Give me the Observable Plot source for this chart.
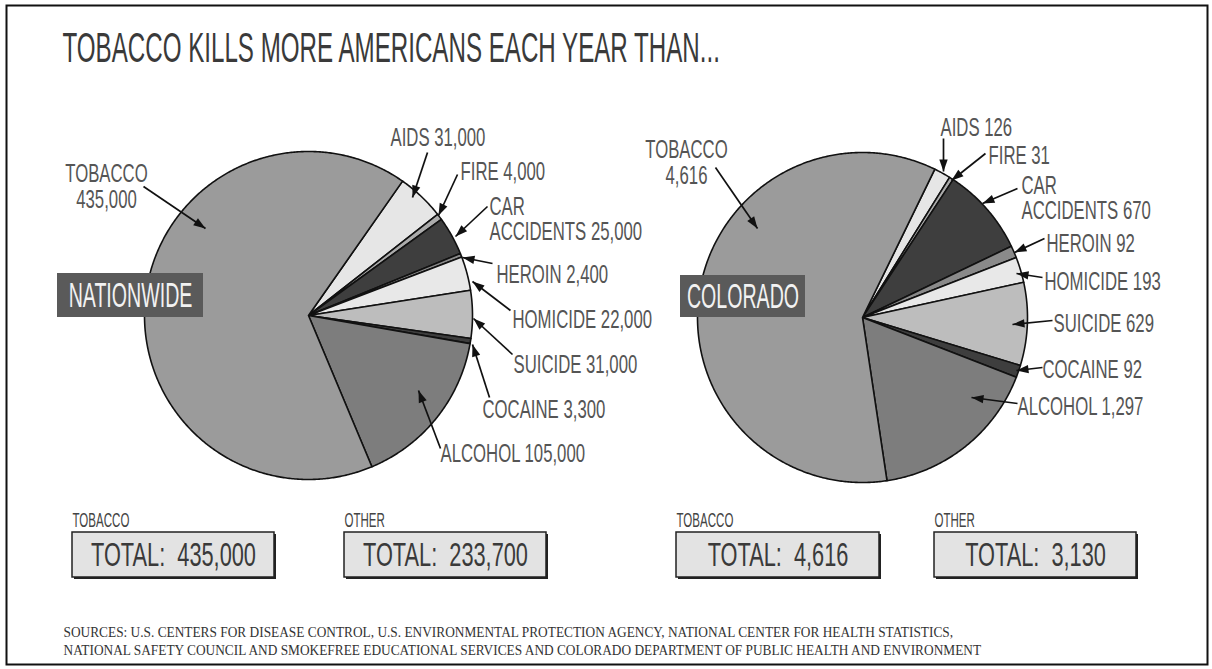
<!DOCTYPE html>
<html><head><meta charset="utf-8">
<script src="https://cdn.jsdelivr.net/npm/d3@7"></script>
<script src="https://cdn.jsdelivr.net/npm/@observablehq/plot@0.6"></script>
<style>html,body{margin:0;padding:0;background:#fff} svg{display:block}</style>
</head><body><div id="chart"></div>
<script>
// ---------- data ----------
const causes = ["AIDS","FIRE","CAR ACCIDENTS","HEROIN","HOMICIDE","SUICIDE","COCAINE","ALCOHOL","TOBACCO"];
const nationwideDeaths = [31000, 4000, 25000, 2400, 22000, 31000, 3300, 105000, 435000];
const coloradoDeaths   = [126, 31, 670, 92, 193, 629, 92, 1297, 4616];
const regionNames = ["NATIONWIDE", "COLORADO"];
const totalLabels = ["TOBACCO", "OTHER"];
// totals as printed on the chart (nationwide "other" printed as 233,700)
const printedTobaccoTotals = [435000, 4616];
const printedOtherTotals = [233700, 3130];
const titleText = "TOBACCO KILLS MORE AMERICANS EACH YEAR THAN...";
const sourceLines = [
  "SOURCES: U.S. CENTERS FOR DISEASE CONTROL, U.S. ENVIRONMENTAL PROTECTION AGENCY, NATIONAL CENTER FOR HEALTH STATISTICS,",
  "NATIONAL SAFETY COUNCIL AND SMOKEFREE EDUCATIONAL SERVICES AND COLORADO DEPARTMENT OF PUBLIC HEALTH AND ENVIRONMENT"
];

// ---------- styles ----------
const sliceFills = ["#e6e6e6","#ababab","#3e3e3e","#8a8a8a","#e8e8e8","#bdbdbd","#3e3e3e","#7d7d7d","#9b9b9b"];
const SANS = "'Liberation Sans', Arial, sans-serif";
const SERIF = "'Liberation Serif', 'Times New Roman', serif";
const textScale = {ttl: 0.575, lbl: 0.67, reg: 0.56, sml: 0.55, tot: 0.66, src: 0.89};

// ---------- layout ----------
const W = 1212, H = 669;
const pieLayout = [
  {cx: 308, cy: 315, r: 164, start: 35, box: [57, 203, 273, 317],
   labels: [[390,127],[460,161],[489,196],[496,264],[512,309],[513,354],[482,399],[440,443],[106,163]],
   arrows: [[427,152,412,197],[457,174,438,215],[487,206,455,236],[492,263,462,257],[510,310,472,281],
            [512,354,473,318],[489,397,472,344],[440,448,418,390],[143,186,205,228]],
   totals: [[72,274],[344,546]]},
  {cx: 862, cy: 317, r: 165, start: 26, box: [680, 805, 275, 317],
   labels: [[940,117],[988,145],[1021,175],[1046,233],[1044,271],[1053,313],[1042,359],[1017,396],[686,139]],
   arrows: [[943,138,943,171],[985,153,951,180],[1017,188,982,203],[1044,238,1014,252],[1042,277,1016,273],
            [1052,320,1012,324],[1042,367,1016,370],[1017,403,971,397],[715,167,757,228]],
   totals: [[676,879],[934,1136]]}
];
const totalsBox = {y1: 532, y2: 577, labelTop: 512};
const sourceTop = [626, 644];

// ---------- derived rows ----------
const fmt = d3.format(",");
const series = [nationwideDeaths, coloradoDeaths];
function polar(p, deg, rr) { const t = deg * Math.PI / 180; return [p.cx + rr * Math.sin(t), p.cy - rr * Math.cos(t)]; }

const sliceRows = [], labelRows = [], tobaccoLabelRows = [], arrowRows = [], regionRows = [], totalRows = [], smallRows = [];
series.forEach((values, pi) => {
  const p = pieLayout[pi];
  const total = d3.sum(values);
  let acc = p.start;
  values.forEach((v, i) => {
    const span = v / total * 360, a0 = acc; acc += span;
    const key = regionNames[pi] + "|" + causes[i];
    const n = Math.max(2, Math.ceil(span / 0.5));
    sliceRows.push({key, fill: sliceFills[i], x: p.cx, y: p.cy});
    for (let k = 0; k <= n; k++) { const [x, y] = polar(p, a0 + span * k / n, p.r); sliceRows.push({key, fill: sliceFills[i], x, y}); }
    sliceRows.push({key, fill: sliceFills[i], x: p.cx, y: p.cy});
    const [lx, ly] = p.labels[i];
    let text;
    if (causes[i] === "CAR ACCIDENTS") text = "CAR\nACCIDENTS " + fmt(v);
    else if (causes[i] === "TOBACCO") text = "TOBACCO\n" + fmt(v);
    else text = causes[i] + " " + fmt(v);
    (causes[i] === "TOBACCO" ? tobaccoLabelRows : labelRows).push({x: lx, y: ly, text});
    const [x1, y1, x2, y2] = p.arrows[i];
    arrowRows.push({x1, y1, x2, y2, angle: Math.atan2(x2 - x1, -(y2 - y1)) * 180 / Math.PI});
  });
  const [bx1, bx2, by1, by2] = p.box;
  regionRows.push({x1: bx1, x2: bx2, y1: by1, y2: by2, x: (bx1 + bx2) / 2, y: (by1 + by2) / 2, text: regionNames[pi]});
  [printedTobaccoTotals[pi], printedOtherTotals[pi]].forEach((t, j) => {
    const [x1, x2] = p.totals[j];
    totalRows.push({x1, x2, y1: totalsBox.y1, y2: totalsBox.y2, x: (x1 + x2) / 2, y: (totalsBox.y1 + totalsBox.y2) / 2,
                    text: "TOTAL:\u00a0\u00a0" + fmt(t)});
    smallRows.push({x: x1, y: totalsBox.labelTop, text: totalLabels[j]});
  });
});

const arrowHead = {draw(ctx) { ctx.moveTo(0, 0); ctx.lineTo(-4.2, 12); ctx.lineTo(4.2, 12); ctx.closePath(); }};

const chart = Plot.plot({
  width: W, height: H,
  marginLeft: 6, marginRight: 5, marginTop: 5, marginBottom: 5,
  x: {domain: [6, W - 5], range: [6, W - 5], axis: null},
  y: {domain: [5, H - 5], range: [5, H - 5], axis: null},
  color: {type: "identity"},
  style: {background: "#fff"},
  marks: [
    Plot.frame({stroke: "#111", strokeWidth: 2}),
    Plot.text([titleText], {x: () => 62, y: () => 32, text: d => d, textAnchor: "start", lineAnchor: "top",
      fontSize: 42, fontFamily: SANS, fill: "#3a3a3a", className: "ttl"}),
    Plot.line(sliceRows, {x: "x", y: "y", z: "key", fill: "fill", stroke: "#111", strokeWidth: 1.6, strokeLinejoin: "round"}),
    Plot.rect(regionRows, {x1: "x1", x2: "x2", y1: "y1", y2: "y2", fill: "#5a5a5a"}),
    Plot.text(regionRows, {x: "x", y: "y", text: "text", fontSize: 35, fontFamily: SANS, fill: "#f2f2f2", className: "reg"}),
    Plot.link(arrowRows, {x1: "x1", y1: "y1", x2: "x2", y2: "y2", stroke: "#111", strokeWidth: 1.7}),
    Plot.dot(arrowRows, {x: "x2", y: "y2", rotate: "angle", symbol: arrowHead, fill: "#111", stroke: null, r: 5}),
    Plot.text(labelRows, {x: "x", y: "y", text: "text", textAnchor: "start", lineAnchor: "top", lineHeight: 1.02,
      fontSize: 25, fontFamily: SANS, fill: "#555", className: "lbl"}),
    Plot.text(tobaccoLabelRows, {x: "x", y: "y", text: "text", textAnchor: "middle", lineAnchor: "top", lineHeight: 1.04,
      fontSize: 25, fontFamily: SANS, fill: "#555", className: "lbl"}),
    Plot.text(smallRows, {x: "x", y: "y", text: "text", textAnchor: "start", lineAnchor: "top",
      fontSize: 21, fontFamily: SANS, fill: "#444", className: "sml"}),
    Plot.rect(totalRows, {x1: d => d.x1 + 2, x2: d => d.x2 + 2, y1: d => d.y1 + 2, y2: d => d.y2 + 2, fill: "#222"}),
    Plot.rect(totalRows, {x1: "x1", x2: "x2", y1: "y1", y2: "y2", fill: "#e3e3e3", stroke: "#222", strokeWidth: 1.5}),
    Plot.text(totalRows, {x: "x", y: "y", text: "text", fontSize: 33, fontFamily: SANS, fill: "#3a3a3a", className: "tot"}),
    Plot.text(sourceLines, {x: () => 63, y: (d, i) => sourceTop[i], text: d => d, textAnchor: "start", lineAnchor: "top",
      fontSize: 15, fontFamily: SERIF, fill: "#333", className: "src"})
  ]
});

for (const [cls, sx] of Object.entries(textScale)) {
  chart.querySelectorAll(`g.${cls} text`).forEach(t => {
    const tr = t.getAttribute("transform") || "";
    t.setAttribute("transform", tr + ` scale(${sx},1)`);
  });
}
document.getElementById("chart").appendChild(chart);
</script>
</body></html>
